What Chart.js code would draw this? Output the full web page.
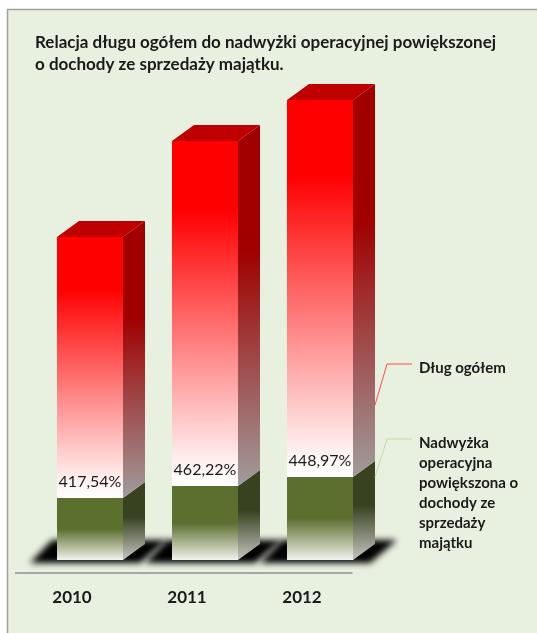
<!DOCTYPE html>
<html>
<head>
<meta charset="utf-8">
<script src="https://cdn.jsdelivr.net/npm/chart.js@4.4.1/dist/chart.umd.min.js"></script>
<style>
  html, body { margin: 0; padding: 0; background: #fff; }
  #wrap { width: 537px; height: 633px; }
</style>
</head>
<body>
<div id="wrap"><canvas id="myChart" width="537" height="633"></canvas></div>
<script>
const categories = ['2010', '2011', '2012'];
const debtValues = [261, 345, 377];      // Dług ogółem (red, top segment)
const surplusValues = [62, 74, 83];      // Nadwyżka operacyjna ... (green, bottom segment)
const ratioLabels = ['417,54%', '462,22%', '448,97%'];
const titleLines = ['Relacja długu ogółem do nadwyżki operacyjnej powiększonej', 'o dochody ze sprzedaży majątku.'];
const legendDebt = ['Dług ogółem'];
const legendSurplus = ['Nadwyżka', 'operacyjna', 'powiększona o', 'dochody ze', 'sprzedaży', 'majątku'];

const DX = 22, DY = -16;  // depth of the fake 3D boxes
const FONT = 'Lato, "Noto Sans", sans-serif';

function vGrad(ctx, top, bottom, stops) {
  const g = ctx.createLinearGradient(0, top, 0, bottom);
  stops.forEach(s => g.addColorStop(s[0], s[1]));
  return g;
}

const redFront = [[0, '#ff0000'], [0.2, '#ff0000'], [0.93, '#fff0f0'], [1, '#ffffff']];
const redSide = [[0, '#a00000'], [0.35, '#a00000'], [1, '#a09c9c']];
const greenFront = [[0, '#5b6f2f'], [0.5, '#5b6f2f'], [0.85, '#c4cab2'], [1, '#f2f4ee']];
const greenSide = [[0, '#384220'], [0.45, '#384220'], [1, '#c4c4c0']];

function poly(ctx, pts, fill) {
  ctx.beginPath();
  ctx.moveTo(pts[0][0], pts[0][1]);
  for (let i = 1; i < pts.length; i++) ctx.lineTo(pts[i][0], pts[i][1]);
  ctx.closePath();
  ctx.fillStyle = fill;
  ctx.fill();
}

const boxes = {
  id: 'boxes',
  beforeDraw(chart) {
    const ctx = chart.ctx;
    ctx.save();
    ctx.fillStyle = '#e8f0df';
    ctx.fillRect(7, 9, 540, 640);
    ctx.strokeStyle = '#a0a0a0';
    ctx.lineWidth = 1.5;
    ctx.strokeRect(7.5, 9.5, 560, 640);
    ctx.restore();
  },
  beforeDatasetsDraw(chart) {
    const ctx = chart.ctx;
    const meta = chart.getDatasetMeta(0);
    ctx.save();
    ctx.filter = 'blur(3px)';
    meta.data.forEach(e => {
      const l = e.x - e.width / 2, r = e.x + e.width / 2, b = e.base;
      poly(ctx, [[l - 27, b + 3], [r + 17, b + 3], [r + 44, b - 20], [l - 5, b - 20]], '#000');
    });
    ctx.restore();
  },
  afterDatasetsDraw(chart) {
    const ctx = chart.ctx;
    const area = chart.chartArea;
    const green = chart.getDatasetMeta(0).data;
    const red = chart.getDatasetMeta(1).data;
    ctx.save();
    [[green, greenSide], [red, redSide]].forEach(([els, stops]) => {
      els.forEach(e => {
        const r = e.x + e.width / 2;
        poly(ctx, [[r, e.base], [r, e.y], [r + DX, e.y + DY], [r + DX, e.base + DY]],
          vGrad(ctx, e.y + DY, e.base, stops));
      });
    });
    red.forEach(e => {
      const l = e.x - e.width / 2, r = e.x + e.width / 2;
      poly(ctx, [[l, e.y], [r, e.y], [r + DX, e.y + DY], [l + DX, e.y + DY]], '#c00000');
    });

    // ratio labels just above the green segment
    ctx.fillStyle = '#1a1a1a';
    ctx.font = '16px ' + FONT;
    ctx.textAlign = 'center';
    ctx.textBaseline = 'middle';
    green.forEach((e, i) => ctx.fillText(ratioLabels[i], e.x, e.y - 16));

    // floor line
    ctx.strokeStyle = '#a6a6a6';
    ctx.lineWidth = 2;
    ctx.beginPath();
    ctx.moveTo(15, area.bottom + 13);
    ctx.lineTo(area.right - 25, area.bottom + 13);
    ctx.stroke();

    // category labels
    const xs = chart.scales.x;
    ctx.font = 'bold 17px ' + FONT;
    ctx.fillStyle = '#1a1a1a';
    categories.forEach((c, i) => ctx.fillText(c, xs.getPixelForValue(i) - 18, area.bottom + 38));

    // title
    ctx.textAlign = 'left';
    ctx.textBaseline = 'alphabetic';
    titleLines.forEach((t, i) => ctx.fillText(t, 35, 48 + i * 22));

    // legend with leader lines
    ctx.lineWidth = 1;
    ctx.strokeStyle = '#ff4b4b';
    ctx.beginPath();
    ctx.moveTo(412, 364); ctx.lineTo(387, 364); ctx.lineTo(375, 405);
    ctx.stroke();
    ctx.strokeStyle = '#c6dba8';
    ctx.beginPath();
    ctx.moveTo(412, 439); ctx.lineTo(387, 439); ctx.lineTo(375, 477);
    ctx.stroke();
    ctx.font = 'bold 15px ' + FONT;
    ctx.textBaseline = 'middle';
    legendDebt.forEach((t, i) => ctx.fillText(t, 419, 368 + i * 20));
    legendSurplus.forEach((t, i) => ctx.fillText(t, 419, 443 + i * 20));
    ctx.restore();
  }
};

const ctx = document.getElementById('myChart').getContext('2d');

new Chart(ctx, {
  type: 'bar',
  data: {
    labels: categories,
    datasets: [{
      label: 'Nadwyżka operacyjna powiększona o dochody ze sprzedaży majątku',
      data: surplusValues,
      backgroundColor: c => {
        const ch = c.chart;
        if (!ch.chartArea) return '#5b6f2f';
        const y = ch.scales.y;
        const v = surplusValues[c.dataIndex];
        return vGrad(ch.ctx, y.getPixelForValue(v), y.getPixelForValue(0), greenFront);
      }
    }, {
      label: 'Dług ogółem',
      data: debtValues,
      backgroundColor: c => {
        const ch = c.chart;
        if (!ch.chartArea) return '#ff0000';
        const y = ch.scales.y;
        const base = surplusValues[c.dataIndex];
        return vGrad(ch.ctx, y.getPixelForValue(base + debtValues[c.dataIndex]), y.getPixelForValue(base), redFront);
      }
    }]
  },
  options: {
    responsive: false,
    animation: false,
    layout: { padding: { left: 32.5, right: 159.5, top: 80, bottom: 73 } },
    datasets: { bar: { barPercentage: 0.574, categoryPercentage: 1, borderWidth: 0 } },
    scales: {
      x: { stacked: true, display: false },
      y: { stacked: true, display: false, min: 0, max: 480 }
    },
    plugins: {
      legend: { display: false },
      title: { display: false },
      tooltip: { enabled: false }
    }
  },
  plugins: [boxes]
});
</script>
</body>
</html>
